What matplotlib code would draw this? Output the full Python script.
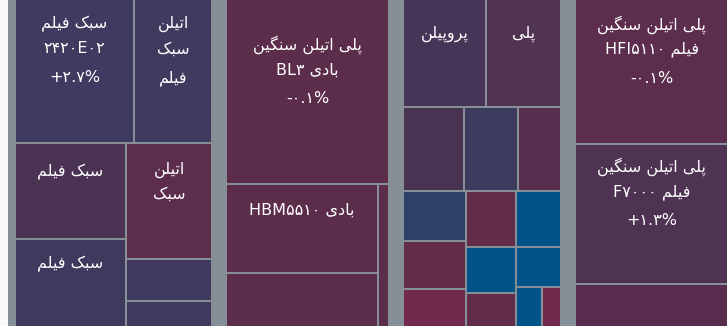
import matplotlib
matplotlib.use("Agg")
import matplotlib.pyplot as plt
from matplotlib.patches import Rectangle

# ---------------------------------------------------------------- data
group_names = ["سبک", "سنگین", "پلی پروپیلن", "فیلم"]

a_labels = ["سبک فیلم\n۲۴۲۰E۰۲\n+۲.۷%", "اتیلن\nسبک\nفیلم", "سبک فیلم",
            "سبک فیلم", "اتیلن\nسبک", "", ""]
a_values = [558, 366, 348, 321, 327, 118, 73]
a_colors = ["#3f3a5f", "#403a5f", "#4b3353", "#3f395d", "#5c2d4c",
            "#3f3a5e", "#3f3a5e"]

b_labels = ["پلی اتیلن سنگین\nبادی BL۳\n-۰.۱%", "بادی HBM۵۵۱۰", "", ""]
b_values = [1001, 445, 272, 52]
b_colors = ["#5c2d4b", "#5c2d4b", "#5c2d4b", "#5c2d4b"]

c_labels = ["پروپیلن", "پلی"] + [""] * 13
c_values = [297, 269, 170, 151, 120, 104, 100, 80, 93, 76, 56, 84, 60, 35, 25]
c_colors = ["#463556", "#513352", "#483352", "#3c3b5e", "#582e4e",
            "#2d4068", "#622d4b", "#722a4c",
            "#622d4b", "#00548a", "#622d4b",
            "#00548a", "#00548a", "#00548a", "#722a4c"]

d_labels = ["پلی اتیلن سنگین\nفیلم HFI۵۱۱۰\n-۰.۱%",
            "پلی اتیلن سنگین\nفیلم F۷۰۰۰\n+۱.۳%", ""]
d_values = [736, 715, 219]
d_colors = ["#5c2d4c", "#4e3353", "#582c4c"]

# nesting of the tiles inside each group: 'h' splits side by side, 'v' stacks
a_tree = ("v", [("h", [0, 1]), ("h", [("v", [2, 3]), ("v", [4, 5, 6])])])
b_tree = ("v", [0, ("h", [("v", [1, 2]), 3])])
c_tree = ("v", [("h", [0, 1]), ("h", [2, 3, 4]),
                ("h", [("v", [5, 6, 7]), ("v", [8, 9, 10]),
                       ("v", [11, 12, ("h", [13, 14])])])])
d_tree = ("v", [0, 1, 2])

groups = [
    (a_labels, a_values, a_colors, a_tree),
    (b_labels, b_values, b_colors, b_tree),
    (c_labels, c_values, c_colors, c_tree),
    (d_labels, d_values, d_colors, d_tree),
]

# ---------------------------------------------------------------- arabic shaping
# (isolated, final, initial, medial); None = letter does not join forward
FORMS = {
    "ا": ("\uFE8D", "\uFE8E", None, None),
    "ب": ("\uFE8F", "\uFE90", "\uFE91", "\uFE92"),
    "پ": ("\uFB56", "\uFB57", "\uFB58", "\uFB59"),
    "ت": ("\uFE95", "\uFE96", "\uFE97", "\uFE98"),
    "د": ("\uFEA9", "\uFEAA", None, None),
    "ر": ("\uFEAD", "\uFEAE", None, None),
    "و": ("\uFEED", "\uFEEE", None, None),
    "س": ("\uFEB1", "\uFEB2", "\uFEB3", "\uFEB4"),
    "ف": ("\uFED1", "\uFED2", "\uFED3", "\uFED4"),
    "ک": ("\uFB8E", "\uFB8F", "\uFB90", "\uFB91"),
    "گ": ("\uFB92", "\uFB93", "\uFB94", "\uFB95"),
    "ل": ("\uFEDD", "\uFEDE", "\uFEDF", "\uFEE0"),
    "م": ("\uFEE1", "\uFEE2", "\uFEE3", "\uFEE4"),
    "ن": ("\uFEE5", "\uFEE6", "\uFEE7", "\uFEE8"),
    "ی": ("\uFBFC", "\uFBFD", "\uFBFE", "\uFBFF"),
}


def shape_word(word):
    out = []
    for i, ch in enumerate(word):
        if ch not in FORMS:
            out.append(ch)
            continue
        prev = word[i - 1] if i > 0 else None
        nxt = word[i + 1] if i + 1 < len(word) else None
        join_prev = prev in FORMS and FORMS[prev][2] is not None
        join_next = FORMS[ch][2] is not None and nxt in FORMS
        iso, fin, ini, med = FORMS[ch]
        if join_prev and join_next:
            out.append(med)
        elif join_prev:
            out.append(fin)
        elif join_next:
            out.append(ini)
        else:
            out.append(iso)
    return "".join(out)


def visual(line):
    tokens = []
    for tok in line.split(" "):
        if any(ch in FORMS for ch in tok):
            tokens.append(shape_word(tok)[::-1])
        else:
            tokens.append(tok)
    return " ".join(reversed(tokens))


# ---------------------------------------------------------------- layout
def total(node, values):
    if isinstance(node, int):
        return values[node]
    return sum(total(c, values) for c in node[1])


def slice_layout(node, values, x0, y0, x1, y1, out):
    if isinstance(node, int):
        out[node] = (x0, y0, x1, y1)
        return
    direction, children = node
    whole = sum(total(c, values) for c in children)
    pos = x0 if direction == "h" else y0
    span = (x1 - x0) if direction == "h" else (y1 - y0)
    for c in children:
        step = span * total(c, values) / whole
        if direction == "h":
            slice_layout(c, values, pos, y0, pos + step, y1, out)
        else:
            slice_layout(c, values, x0, pos, x1, pos + step, out)
        pos += step


W, H = 727, 326
fig = plt.figure(figsize=(W / 100, H / 100), dpi=100, facecolor="#f8f9fa")
ax = fig.add_axes([0, 0, 1, 1])
ax.set_xlim(0, W)
ax.set_ylim(H, 0)
ax.axis("off")

root = (8, -8, 735, 334)
group_pad = 7
tile_gap = 1

ax.add_patch(Rectangle((root[0], root[1]), root[2] - root[0], root[3] - root[1],
                       facecolor="#868e96", edgecolor="none", zorder=0))

group_totals = [sum(g[1]) for g in groups]
grand = sum(group_totals)
gx = root[0]
line_offsets = {1: [0], 2: [-12, 12], 3: [-28, -3, 26]}

for (labels, values, colors, tree), gt in zip(groups, group_totals):
    gw = (root[2] - root[0]) * gt / grand
    rects = {}
    slice_layout(tree, values, gx + group_pad, root[1] + group_pad,
                 gx + gw - group_pad, root[3] - group_pad, rects)
    gx += gw
    for i, (x0, y0, x1, y1) in rects.items():
        ax.add_patch(Rectangle((x0 + tile_gap, y0 + tile_gap),
                               x1 - x0 - 2 * tile_gap, y1 - y0 - 2 * tile_gap,
                               facecolor=colors[i], edgecolor="none", zorder=1))
        if labels[i]:
            lines = labels[i].split("\n")
            cx = (x0 + x1) / 2
            cy = (y0 + y1) / 2 - 19
            for ln, off in zip(lines, line_offsets[len(lines)]):
                ax.text(cx, cy + off, visual(ln), color="white", fontsize=11.5,
                        ha="center", va="center", family=["DejaVu Sans"],
                        zorder=2)

fig.savefig("out.png", dpi=100, facecolor=fig.get_facecolor())
